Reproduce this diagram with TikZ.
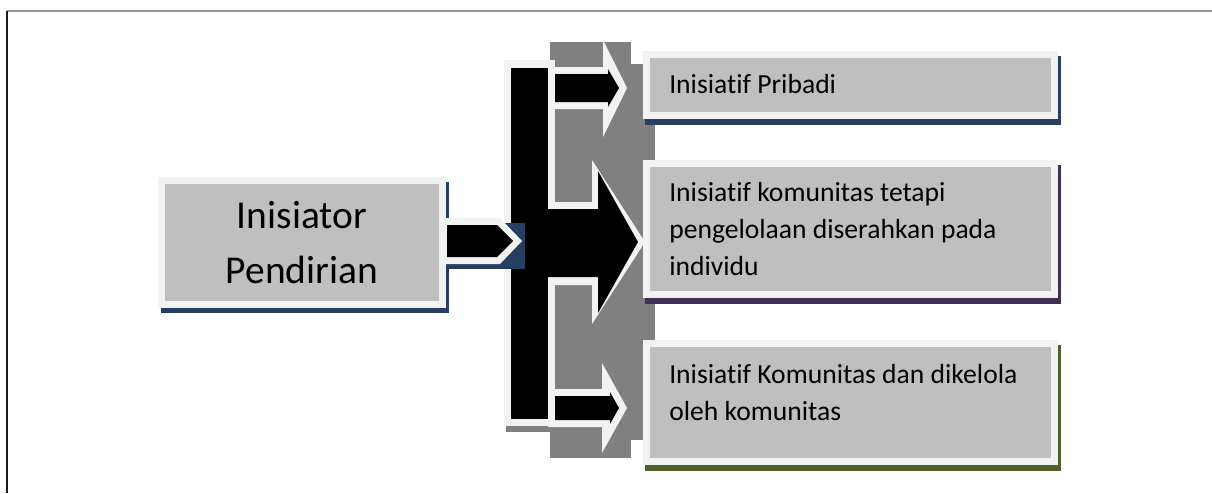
\documentclass[tikz,border=0pt]{standalone}
\usepackage{fontspec}
\setmainfont{Carlito}[Ligatures=NoCommon]
\usepackage{xcolor}
\usepackage{tikz}
\definecolor{box_light}{HTML}{F2F2F2}
\definecolor{box_gray}{HTML}{BFBFBF}
\definecolor{shadow_gray}{HTML}{808080}
\definecolor{shadow_blue}{HTML}{243F60}
\definecolor{shadow_purple}{HTML}{3F3151}
\definecolor{shadow_green}{HTML}{4F6228}
\definecolor{frame_gray}{HTML}{969696}
\definecolor{frame_dark}{HTML}{1A1A1A}

\begin{document}
\begin{tikzpicture}[
                x=0.75pt,
                y=-0.75pt,
                line join=miter,
                box/.style={draw=box_light, fill=box_gray, line width=5.25pt,
                    inner sep=0pt, outer sep=0pt},
                rtext/.style={anchor=base west, align=left, inner sep=0pt,
                    font=\fontsize{20.7}{27.75}\selectfont},
            ]
            \useasboundingbox (0,0) rectangle (1212,493);

            % Page frame
            \draw[frame_gray, line width=1.2pt] (7,11) -- (1212,11);
            \draw[frame_dark, line width=1.1pt] (7,11) -- (7,493);

            % Gray shadow behind the bracket
            \fill[shadow_gray] (506,66) rectangle (558,432);
            \fill[shadow_gray] (550,42) rectangle (631,458);
            \fill[shadow_gray] (550,64) rectangle (655,440);

            % Shadows of the right boxes
            \fill[shadow_blue] (645,56) rectangle (1061,125);
            \fill[shadow_purple] (645,165) rectangle (1061,304);
            \fill[shadow_green] (645,345) rectangle (1061,471);

            % Right boxes
            \node[box, minimum width=306pt, minimum height=45.75pt] (pribadi) at (850.5,85) {};
            \node[box, minimum width=306pt, minimum height=98.25pt] (individu) at (850.5,229) {};
            \node[box, minimum width=306pt, minimum height=88.5pt] (komunitas) at (850.5,402.5) {};

            % Bracket with three arrows: light outline
            \fill[box_light] (504,60) rectangle (555,426);
            \fill[box_light] (548,67) -- (603,67) -- (603,40) -- (627,88) -- (603,137)
                -- (603,109) -- (548,109) -- cycle;
            \fill[box_light] (548,202) -- (592,202) -- (592,160) -- (645,242) -- (592,324)
                -- (592,285) -- (548,285) -- cycle;
            \fill[box_light] (548,389) -- (602,389) -- (602,363) -- (627,408) -- (602,453)
                -- (602,427) -- (548,427) -- cycle;

            % Bracket with three arrows: black body
            \fill[black] (511,68) rectangle (548,419);
            \fill[black] (555,74) -- (608,74) -- (608,69) -- (619,88) -- (608,107)
                -- (608,102) -- (555,102) -- cycle;
            \fill[black] (547,209) -- (598,209) -- (598,171) -- (638,242) -- (598,313)
                -- (598,277) -- (547,277) -- cycle;
            \fill[black] (555,396) -- (610,396) -- (610,392) -- (619,408) -- (610,424)
                -- (610,420) -- (555,420) -- cycle;

            % Left box with its shadow
            \fill[shadow_blue] (161,182) rectangle (449,313);
            \fill[shadow_blue] (441,223) rectangle (525,269);
            \node[box, minimum width=210.75pt, minimum height=93pt, align=center,
                font=\fontsize{29.6}{41.25}\selectfont] (inisiator) at (302,242.5)
                {Inisiator\\Pendirian};

            % Small arrow out of the left box
            \fill[box_light] (441,218) -- (500,218) -- (522,241) -- (500,264) -- (441,264) -- cycle;
            \fill[black] (447,225) -- (497,225) -- (513,241) -- (497,257) -- (447,257) -- cycle;

            % Labels of the right boxes (base = last line)
            \node[rtext] (pribadiLabel) at (669,93) {Inisiatif Pribadi};
            \node[rtext] (individuLabel) at (669,275)
                {Inisiatif komunitas tetapi\\pengelolaan diserahkan pada\\individu};
            \node[rtext] (komunitasLabel) at (669,420)
                {Inisiatif Komunitas dan dikelola\\oleh komunitas};
        \end{tikzpicture}
\end{document}
